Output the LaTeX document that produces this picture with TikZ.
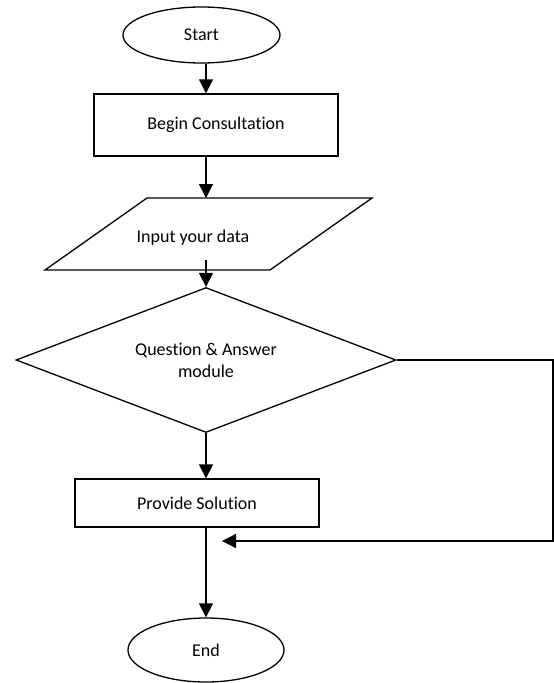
\documentclass[tikz,border=0pt]{standalone}
\usepackage{fontspec}
\setmainfont{Carlito}[Ligatures=NoCommon]
\usetikzlibrary{shapes.geometric,arrows.meta,calc}

\begin{document}
\begin{tikzpicture}[x=1pt, y=-1pt, line width=1.3pt,
    box/.style={draw, inner sep=0pt, font=\fontsize{18}{22}\selectfont},
    arr/.style={-{Triangle[length=14pt, width=14pt]}}]
  \useasboundingbox (0,0) rectangle (554,683);
  \node[box, ellipse, minimum width=157, minimum height=56] (start) at (201.5,35) {Start};
  \node[box, rectangle, minimum width=244, minimum height=62] (begin) at (216,125) {Begin Consultation};
  % input parallelogram
  \draw (147,198) coordinate (intop) -- (372,198) -- (270,270) -- (45,270) coordinate (inbot) -- cycle;
  \node[font=\fontsize{18}{22}\selectfont] (input) at (193,238) {Input your data};
  \node[box, diamond, aspect=2.62, align=center, minimum width=380, minimum height=145] (qa) at (206,360)
    {Question \& Answer\\module};
  \node[box, rectangle, minimum width=244, minimum height=48] (ps) at (197,503) {Provide Solution};
  \node[box, ellipse, minimum width=156, minimum height=64] (endn) at (206,650) {End};
  \coordinate (turn) at (553,541);
  \coordinate (back) at (222,541);
  % arrows down the middle
  \draw[arr] (start.south -| qa.north) -- (begin.north -| qa.north);
  \draw[arr] (begin.south -| qa.north) -- (intop -| qa.north);
  \draw[arr] ($(inbot -| qa.north)+(0,-10)$) -- (qa.north);
  \draw[arr] (qa.south) -- (qa.south |- ps.north);
  \draw[arr] (ps.south -| endn.north) -- (endn.north);
  % loop back from the decision
  \draw[arr] (qa.east) -| (turn) -- (back);
\end{tikzpicture}
\end{document}
